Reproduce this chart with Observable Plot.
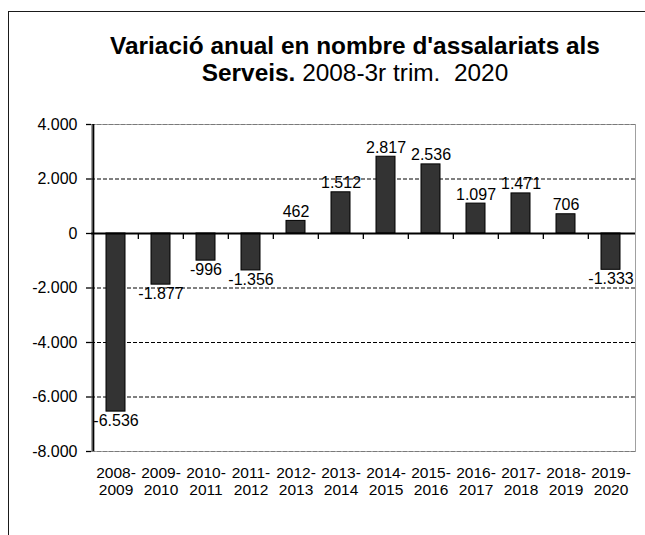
<!DOCTYPE html>
<html>
<head>
<meta charset="utf-8">
<script src="https://cdn.jsdelivr.net/npm/d3@7"></script>
<script src="https://cdn.jsdelivr.net/npm/@observablehq/plot@0.6"></script>
<style>
  html, body { margin: 0; padding: 0; background: #fff; overflow: hidden; width: 645px; height: 535px; }
  #frame { position: absolute; left: 8px; top: 11px; width: 800px; height: 800px; border: 1.5px solid #1a1a1a; box-sizing: border-box; }
  #chart { position: absolute; left: 0; top: 0; }
  #title { position: absolute; left: 8px; top: 32px; width: 694px; text-align: center;
           font-family: "Liberation Sans", Arial, sans-serif; font-size: 24.4px; line-height: 27px; color: #000; z-index: 2; }
  #title b { font-weight: bold; }
</style>
</head>
<body>
<div id="frame"></div>
<div id="chart"></div>
<div id="title"></div>
<script>
// ---- data ----
const periods = ["2008-2009", "2009-2010", "2010-2011", "2011-2012", "2012-2013", "2013-2014",
                 "2014-2015", "2015-2016", "2016-2017", "2017-2018", "2018-2019", "2019-2020"];
const values = [-6536, -1877, -996, -1356, 462, 1512, 2817, 2536, 1097, 1471, 706, -1333];
const yTicks = [4000, 2000, 0, -2000, -4000, -6000, -8000];
const gridTicks = [2000, -2000, -4000, -6000];
const edgeTicks = [4000, -8000];
const titleLine1 = "Variació anual en nombre d'assalariats als";
const titleLine2Bold = "Serveis.";
const titleLine2Rest = " 2008-3r trim.\u00a0 2020";

const data = periods.map((p, i) => ({period: p, value: values[i]}));

// ---- title ----
const t = document.getElementById("title");
const b1 = document.createElement("b"); b1.textContent = titleLine1;
const br = document.createElement("br");
const b2 = document.createElement("b"); b2.textContent = titleLine2Bold;
t.append(b1, br, b2, document.createTextNode(titleLine2Rest));

// ---- chart ----
const W = 645, H = 535, mL = 91, mR = 10, mT = 124, mB = 84;
const step = (W - mL - mR) / periods.length;
const locale = d3.formatLocale({decimal: ",", thousands: ".", grouping: [3], currency: ["", "€"], minus: "-"});
const fmt = locale.format(",d");
const font = "'Liberation Sans', Arial, sans-serif";

const plot = Plot.plot({
  width: W, height: H,
  marginLeft: mL, marginRight: mR, marginTop: mT, marginBottom: mB,
  style: {background: "transparent", fontFamily: font, color: "#000", overflow: "visible"},
  x: {domain: periods, paddingInner: 0.57, paddingOuter: 0.285, label: null, axis: null},
  y: {domain: [-8000, 4000], label: null},
  marks: [
    Plot.frame({stroke: "#a0a0a0", strokeWidth: 1}),
    Plot.gridY(edgeTicks, {stroke: "#7a7a7a", strokeOpacity: 1, strokeDasharray: "4,2"}),
    Plot.gridY(gridTicks, {stroke: "#000", strokeOpacity: 1, strokeDasharray: "4,2"}),
    Plot.barY(data, {x: "period", y: "value", fill: "#333333", stroke: "#000", strokeWidth: 1}),
    Plot.ruleY([0], {stroke: "#000", strokeWidth: 2}),
    Plot.ruleX(periods.slice(1), {x: d => d, y1: 0, y2: 0, insetBottom: -6, dx: -step / 2, stroke: "#000", strokeWidth: 1.3}),
    Plot.ruleX(periods.slice(0, 1), {x: d => d, dx: -step / 2, stroke: "#000", strokeWidth: 2}),
    Plot.text(data.filter(d => d.value >= 0), {x: "period", y: "value", text: d => fmt(d.value),
      lineAnchor: "bottom", dy: -4, fontSize: 16, fill: "#000"}),
    Plot.text(data.filter(d => d.value < 0), {x: "period", y: "value", text: d => fmt(d.value),
      lineAnchor: "top", dy: 3, fontSize: 16, fill: "#000"}),
    Plot.axisY({ticks: yTicks, tickFormat: fmt, tickSize: 5, tickPadding: 9, fontSize: 16, stroke: "#000", strokeWidth: 1.3}),
    Plot.text(periods, {x: d => d, frameAnchor: "bottom", dy: 14, lineAnchor: "top",
      text: d => d.replace("-", "-\n"), fontSize: 15.5, lineHeight: 1.1, fill: "#000"})
  ]
});
document.getElementById("chart").append(plot);
</script>
</body>
</html>
